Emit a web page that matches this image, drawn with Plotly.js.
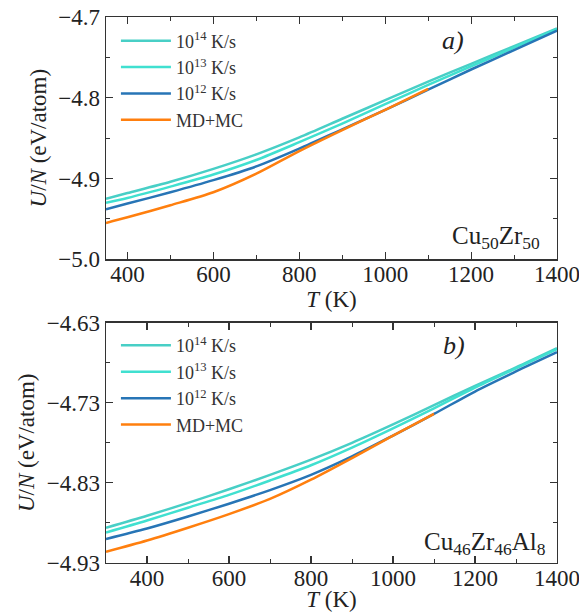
<!DOCTYPE html>
<html>
<head>
<meta charset="utf-8">
<script src="https://cdn.plot.ly/plotly-3.0.1.min.js"></script>
<style>html,body{margin:0;padding:0;background:#fff;}#chart{width:579px;height:612px;}</style>
</head>
<body>
<div id="chart"></div>
<script>
// ---- Data ----
const seriesNames = ["10<sup>14</sup> K/s", "10<sup>13</sup> K/s", "10<sup>12</sup> K/s", "MD+MC"];

// Panel a) Cu50Zr50
const tempA = [350, 400, 500, 600, 700, 800, 900, 1000, 1100, 1200, 1300, 1400];
const tempA_mc = [350, 400, 500, 600, 700, 800, 900, 1000, 1100];
const a_r14 = [-4.925, -4.918, -4.904, -4.888, -4.870, -4.849, -4.826, -4.803, -4.780, -4.758, -4.736, -4.714];
const a_r13 = [-4.930, -4.924, -4.910, -4.895, -4.877, -4.855, -4.832, -4.808, -4.784, -4.761, -4.738, -4.715];
const a_r12 = [-4.938, -4.931, -4.917, -4.902, -4.885, -4.863, -4.839, -4.815, -4.790, -4.765, -4.741, -4.717];
const a_mc  = [-4.955, -4.948, -4.933, -4.917, -4.894, -4.866, -4.840, -4.815, -4.789];

// Panel b) Cu46Zr46Al8
const tempB = [300, 400, 500, 600, 700, 800, 900, 1000, 1100, 1200, 1300, 1400];
const tempB_mc = [300, 400, 500, 600, 700, 800, 900, 1000, 1100];
const b_r14 = [-4.886, -4.871, -4.855, -4.838, -4.820, -4.801, -4.780, -4.757, -4.733, -4.709, -4.686, -4.662];
const b_r13 = [-4.892, -4.877, -4.861, -4.845, -4.827, -4.808, -4.786, -4.762, -4.737, -4.711, -4.687, -4.663];
const b_r12 = [-4.900, -4.887, -4.872, -4.856, -4.839, -4.820, -4.797, -4.771, -4.744, -4.716, -4.691, -4.667];
const b_mc  = [-4.916, -4.902, -4.886, -4.869, -4.850, -4.826, -4.799, -4.771, -4.744];

const colors = ["#48cfc6", "#40e0d0", "#2775b6", "#ff7f0e"];
const FONT = "Liberation Serif, DejaVu Serif, serif";

function tr(x, y, i, xa, ya, leg) {
  return {x: x, y: y, type: "scatter", mode: "lines", name: seriesNames[i],
          line: {color: colors[i], width: 2.5, shape: "spline", smoothing: 0.8},
          xaxis: xa, yaxis: ya, legend: leg, legendgroup: leg + "_" + i};
}

const data = [
  tr(tempA, a_r14, 0, "x", "y", "legend"),
  tr(tempA, a_r13, 1, "x", "y", "legend"),
  tr(tempA, a_r12, 2, "x", "y", "legend"),
  tr(tempA_mc, a_mc, 3, "x", "y", "legend"),
  tr(tempB, b_r14, 0, "x2", "y2", "legend2"),
  tr(tempB, b_r13, 1, "x2", "y2", "legend2"),
  tr(tempB, b_r12, 2, "x2", "y2", "legend2"),
  tr(tempB_mc, b_mc, 3, "x2", "y2", "legend2")
];

const axCommon = {
  showline: true, linecolor: "#333", linewidth: 1.3, mirror: "allticks",
  ticks: "inside", ticklen: 7, tickwidth: 1.2, tickcolor: "#333",
  showgrid: false, zeroline: false, ticklabeloverflow: "allow",
  tickfont: {family: FONT, size: 23, color: "#222"},
  minor: {ticks: "inside", ticklen: 4, tickwidth: 1, tickcolor: "#333", showgrid: false}
};

const xTitle = {text: "<i>T</i> (K)", font: {family: FONT, size: 23, color: "#222"}, standoff: 3};
const yTitle = {text: "<i>U</i>/<i>N</i> (eV/atom)", font: {family: FONT, size: 23, color: "#222"}, standoff: 5};

const legCommon = {xanchor: "left", yanchor: "top", bgcolor: "rgba(0,0,0,0)",
  font: {family: FONT, size: 18, color: "#333"}, tracegroupgap: 0, itemwidth: 50};

const layout = {
  width: 579, height: 612,
  margin: {l: 106, r: 22, t: 17, b: 49},
  paper_bgcolor: "#fff", plot_bgcolor: "#fff",
  font: {family: FONT, color: "#222"},
  xaxis: Object.assign({}, axCommon, {domain: [0, 1], range: [350, 1400], tick0: 400, dtick: 200,
          ticklabelstandoff: -6,
          minor: Object.assign({}, axCommon.minor, {dtick: 100}), anchor: "y", title: xTitle}),
  yaxis: Object.assign({}, axCommon, {domain: [0.5562, 1], range: [-5.0, -4.7], tick0: -5.0, dtick: 0.1,
          tickformat: ".1f", minor: Object.assign({}, axCommon.minor, {dtick: 0.05}), anchor: "x", title: yTitle}),
  xaxis2: Object.assign({}, axCommon, {domain: [0, 1], range: [300, 1400], tick0: 400, dtick: 200,
          ticklabelstandoff: -6,
          minor: Object.assign({}, axCommon.minor, {dtick: 100}), anchor: "y2", title: xTitle}),
  yaxis2: Object.assign({}, axCommon, {domain: [0, 0.4403], range: [-4.93, -4.63], tick0: -4.93, dtick: 0.1,
          tickformat: ".2f", minor: Object.assign({}, axCommon.minor, {tick0: -4.93, dtick: 0.05}), anchor: "x2", title: yTitle}),
  legend: Object.assign({}, legCommon, {x: 0.022, y: 0.99}),
  legend2: Object.assign({}, legCommon, {x: 0.022, y: 0.432}),
  annotations: [
    {xref: "x", yref: "y", x: 1158, y: -4.729, text: "<i>a)</i>", showarrow: false,
     font: {family: FONT, size: 26, color: "#222"}},
    {xref: "x", yref: "y", x: 1365, y: -4.973, xanchor: "right", yanchor: "middle",
     text: "Cu<sub>50</sub>Zr<sub>50</sub>", showarrow: false, font: {family: FONT, size: 25, color: "#222"}},
    {xref: "x2", yref: "y2", x: 1148, y: -4.659, text: "<i>b)</i>", showarrow: false,
     font: {family: FONT, size: 26, color: "#222"}},
    {xref: "x2", yref: "y2", x: 1379, y: -4.9055, xanchor: "right", yanchor: "middle",
     text: "Cu<sub>46</sub>Zr<sub>46</sub>Al<sub>8</sub>", showarrow: false, font: {family: FONT, size: 25, color: "#222"}}
  ]
};

Plotly.newPlot("chart", data, layout, {displayModeBar: false, staticPlot: true});
</script>
</body>
</html>
